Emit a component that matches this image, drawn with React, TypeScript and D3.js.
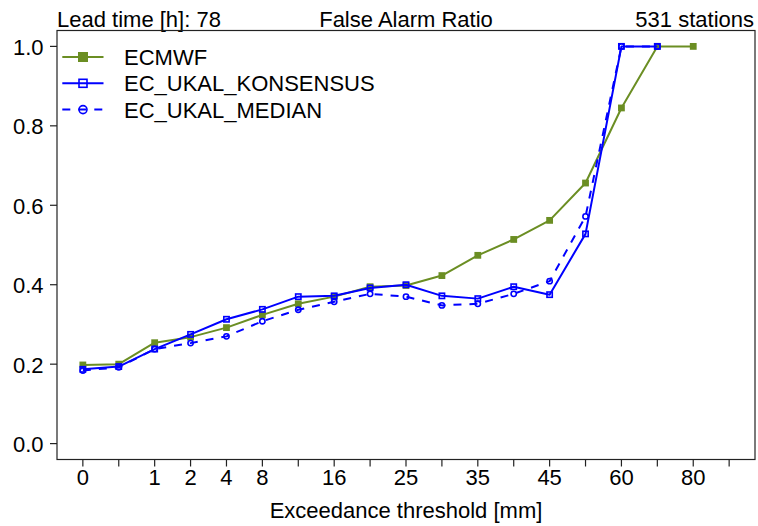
import React from "react";
import * as d3 from "d3";

const W = 758;
const H = 526;

// x categories (threshold index) and their tick labels
const tickLabels = ["0", "", "1", "2", "4", "8", "", "16", "", "25", "", "35", "", "45", "", "60", "", "80", ""];
const yTicks = [0.0, 0.2, 0.4, 0.6, 0.8, 1.0];

const ecmwf = [0.198, 0.2, 0.254, 0.268, 0.292, 0.324, 0.352, 0.37, 0.395, 0.398, 0.423, 0.474, 0.514, 0.562, 0.656, 0.845, 1.0, 1.0];
const konsensus = [0.187, 0.194, 0.238, 0.275, 0.313, 0.338, 0.37, 0.372, 0.392, 0.4, 0.372, 0.365, 0.395, 0.375, 0.528, 1.0, 1.0, null];
const median = [0.184, 0.192, 0.238, 0.253, 0.27, 0.308, 0.337, 0.357, 0.377, 0.37, 0.348, 0.352, 0.377, 0.409, 0.572, 1.0, 1.0, null];

const seriesNames = ["ECMWF", "EC_UKAL_KONSENSUS", "EC_UKAL_MEDIAN"];
const titleLeft = "Lead time [h]: 78";
const titleCenter = "False Alarm Ratio";
const titleRight = "531 stations";
const xTitle = "Exceedance threshold [mm]";

const GREEN = "#6b8e23";
const BLUE = "#0000ff";
const FONT = "'Liberation Sans', Arial, Helvetica, sans-serif";

export default function App() {
  const left = 57, right = 755, top = 30.5, bottom = 459.5;
  const x = d3.scaleLinear().domain([-0.72, 18.72]).range([left, right]);
  const y = d3.scaleLinear().domain([-0.04, 1.04]).range([bottom, top]);

  const line = d3
    .line<number | null>()
    .defined((d) => d != null)
    .x((_, i) => x(i))
    .y((d) => y(d as number));

  const series = [
    { name: seriesNames[0], data: ecmwf, color: GREEN, dash: undefined, marker: "fsquare" },
    { name: seriesNames[1], data: konsensus, color: BLUE, dash: undefined, marker: "osquare" },
    { name: seriesNames[2], data: median, color: BLUE, dash: "8 8", marker: "ocircle" },
  ];

  const marker = (kind: string, cx: number, cy: number, color: string, s: number, key: any) => {
    if (kind === "fsquare")
      return <rect key={key} x={cx - s / 2} y={cy - s / 2} width={s} height={s} fill={color} />;
    if (kind === "osquare")
      return (
        <rect key={key} x={cx - s / 2 + 0.75} y={cy - s / 2 + 0.75} width={s - 1.5} height={s - 1.5} fill="none" stroke={color} strokeWidth={1.6} />
      );
    return <circle key={key} cx={cx} cy={cy} r={s / 2 - 0.75} fill="none" stroke={color} strokeWidth={1.6} />;
  };

  const legendY = [57, 83.3, 109.6];

  return (
    <svg width={W} height={H} style={{ position: "absolute", left: 0, top: 0, background: "#fff" }} fontFamily={FONT}>
      <rect x={0} y={0} width={W} height={H} fill="#fff" />
      {/* titles */}
      <text x={left} y={27} fontSize={22} textAnchor="start">{titleLeft}</text>
      <text x={(left + right) / 2} y={27} fontSize={22} textAnchor="middle">{titleCenter}</text>
      <text x={right - 1} y={27} fontSize={22} textAnchor="end">{titleRight}</text>

      {/* series */}
      {series.map((s, si) => (
        <g key={si}>
          <path d={line(s.data) || ""} fill="none" stroke={s.color} strokeWidth={2} strokeDasharray={s.dash} strokeLinejoin="round" />
          {s.data.map((v, i) => (v == null ? null : marker(s.marker, x(i), y(v), s.color, 6.8, i)))}
        </g>
      ))}

      {/* frame */}
      <rect x={left} y={top} width={right - left} height={bottom - top} fill="none" stroke="#222" strokeWidth={1.2} />

      {/* y axis */}
      {yTicks.map((t) => (
        <g key={t}>
          <line x1={left - 7} x2={left} y1={y(t)} y2={y(t)} stroke="#222" strokeWidth={1.2} />
          <text x={43.5} y={y(t) + 8.5} fontSize={22} textAnchor="end">{t.toFixed(1)}</text>
        </g>
      ))}

      {/* x axis */}
      {tickLabels.map((lab, i) => (
        <g key={i}>
          <line x1={x(i)} x2={x(i)} y1={bottom} y2={bottom + 7} stroke="#222" strokeWidth={1.2} />
          {lab && (
            <text x={x(i)} y={484.5} fontSize={22} textAnchor="middle">{lab}</text>
          )}
        </g>
      ))}
      <text x={(left + right) / 2} y={517.5} fontSize={22} textAnchor="middle">{xTitle}</text>

      {/* legend */}
      {series.map((s, si) => (
        <g key={si}>
          <line x1={62.3} x2={103.5} y1={legendY[si]} y2={legendY[si]} stroke={s.color} strokeWidth={2} strokeDasharray={s.dash} />
          {marker(s.marker, 83, legendY[si], s.color, si === 0 ? 10 : 9.5, "m")}
          <text x={124} y={legendY[si] + 8} fontSize={22}>{s.name}</text>
        </g>
      ))}
    </svg>
  );
}
